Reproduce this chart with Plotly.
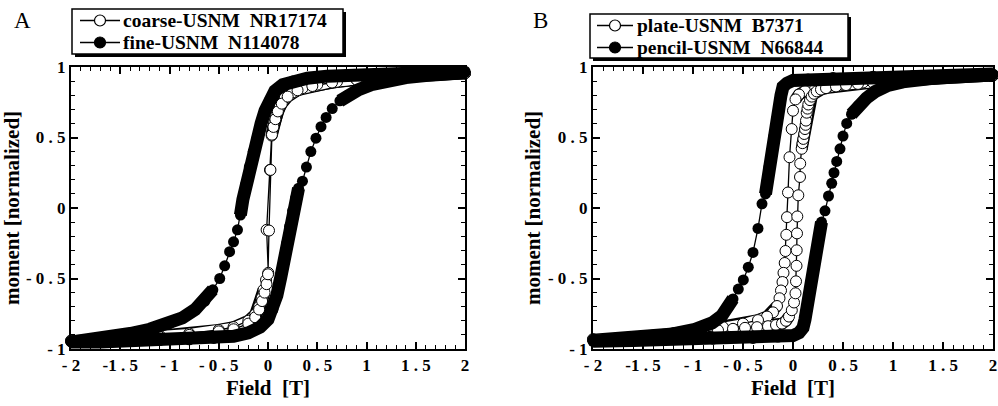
import plotly.graph_objects as go

# ---------------- data ----------------
# Panel A -- coarse-USNM NR17174 (open circles): full loop, descending then ascending
coarse_a_x = [2.0, 1.6, 1.2, 0.9, 0.7, 0.5, 0.35, 0.25, 0.17, 0.12, 0.085, 0.065, 0.05, 0.037,
              0.02, -0.014, 0.003, -0.02,
              -0.045, -0.065, -0.09, -0.13, -0.2, -0.35, -0.5, -0.8, -1.1, -1.5, -2.0,
              -2.0, -1.5, -1.1, -0.8, -0.5, -0.35, -0.2, -0.13, -0.09, -0.06, -0.035,
              -0.015, 0.0, 0.01, 0.025,
              0.04, 0.055, 0.075, 0.1, 0.14, 0.2, 0.3, 0.45, 0.65, 0.9, 1.3, 2.0]
coarse_a_y = [0.955, 0.945, 0.93, 0.91, 0.895, 0.875, 0.85, 0.82, 0.78, 0.72, 0.66, 0.61, 0.565, 0.514,
              0.27, -0.155, -0.46, -0.51,
              -0.58, -0.64, -0.70, -0.755, -0.80, -0.845, -0.865, -0.89, -0.905, -0.925, -0.94,
              -0.945, -0.93, -0.915, -0.90, -0.875, -0.86, -0.82, -0.775, -0.72, -0.66, -0.60,
              -0.54, -0.47, -0.16, 0.27,
              0.52, 0.575, 0.63, 0.685, 0.74, 0.79, 0.835, 0.865, 0.89, 0.91, 0.935, 0.955]
# sampling density of each point: D = densely measured (markers overlap), s = sparse
coarse_a_sampling = "D" * 14 + "s" * 4 + "D" * 11 + "D" * 11 + "s" * 4 + "D" * 12

# Panel A -- fine-USNM N114078 (filled circles)
fine_a_x = [2.0, 1.7, 1.4, 1.1, 0.8, 0.6, 0.4, 0.25, 0.15, 0.07, 0.02, -0.03, -0.07, -0.11,
            -0.15, -0.19, -0.225, -0.255, -0.28,
            -0.31, -0.35, -0.39, -0.44, -0.49,
            -0.56, -0.64, -0.74, -0.87, -1.0, -1.2, -1.4, -1.6, -1.8, -2.0,
            -2.0, -1.7, -1.4, -1.1, -0.8, -0.55, -0.35, -0.2, -0.08, 0.0, 0.05, 0.09, 0.13,
            0.16, 0.19, 0.22, 0.25, 0.28, 0.31,
            0.35, 0.39, 0.435, 0.487, 0.538, 0.59, 0.652,
            0.73, 0.81, 0.92, 1.05, 1.2, 1.4, 1.6, 1.8, 2.0]
fine_a_y = [0.97, 0.965, 0.96, 0.955, 0.945, 0.935, 0.92, 0.90, 0.875, 0.83, 0.77, 0.69, 0.60, 0.50,
            0.40, 0.29, 0.17, 0.06, -0.05,
            -0.155, -0.24, -0.31, -0.41, -0.50,
            -0.58, -0.66, -0.72, -0.78, -0.82, -0.86, -0.89, -0.91, -0.93, -0.945,
            -0.95, -0.95, -0.945, -0.94, -0.935, -0.925, -0.91, -0.885, -0.845, -0.79, -0.72, -0.62, -0.49,
            -0.37, -0.25, -0.13, -0.02, 0.07, 0.14,
            0.19, 0.29, 0.40, 0.495, 0.577, 0.642, 0.705,
            0.76, 0.80, 0.84, 0.875, 0.90, 0.925, 0.94, 0.95, 0.96]
fine_a_sampling = "D" * 19 + "s" * 5 + "D" * 10 + "D" * 19 + "s" * 7 + "D" * 9

# Panel B -- plate-USNM B7371 (open circles)
plate_b_x = [2.0, 1.6, 1.2, 0.9, 0.7, 0.5, 0.35, 0.22, 0.12, 0.06, 0.025,
             0.0, -0.013, -0.035, -0.05, -0.06, -0.067, -0.075, -0.083, -0.095, -0.105, -0.12, -0.135,
             -0.16, -0.2, -0.26, -0.35, -0.5, -0.7, -0.9, -1.2, -1.6, -2.0,
             -2.0, -1.6, -1.2, -0.9, -0.75, -0.6, -0.48, -0.36, -0.25, -0.17, -0.11, -0.07, -0.04,
             -0.012, 0.01, 0.025, 0.03, 0.035, 0.037, 0.04, 0.043, 0.053, 0.07, 0.072,
             0.087, 0.095, 0.103, 0.112, 0.12, 0.126, 0.13, 0.137, 0.145, 0.153, 0.17, 0.187, 0.21,
             0.237, 0.28, 0.33, 0.43, 0.53, 0.65, 0.8, 1.0, 1.3, 1.6, 2.0]
plate_b_y = [0.94, 0.93, 0.915, 0.90, 0.89, 0.875, 0.86, 0.845, 0.83, 0.805, 0.77,
             0.69, 0.56, 0.36, 0.11, -0.065, -0.19, -0.305, -0.39, -0.46, -0.525, -0.585, -0.64,
             -0.695, -0.74, -0.77, -0.795, -0.82, -0.845, -0.865, -0.89, -0.915, -0.93,
             -0.935, -0.925, -0.905, -0.88, -0.867, -0.857, -0.85, -0.845, -0.838, -0.83, -0.82, -0.80, -0.77,
             -0.725, -0.67, -0.605, -0.52, -0.41, -0.30, -0.18, -0.06, 0.09, 0.22, 0.315,
             0.42, 0.46, 0.49, 0.525, 0.56, 0.59, 0.62, 0.676, 0.705, 0.734, 0.765, 0.79, 0.81,
             0.827, 0.84, 0.85, 0.862, 0.872, 0.88, 0.89, 0.90, 0.915, 0.93, 0.94]
plate_b_sampling = "D" * 11 + "s" * 12 + "D" * 10 + "D" * 13 + "s" * 11 + "D" * 24

# Panel B -- pencil-USNM N66844 (filled circles)
pencil_b_x = [2.0, 1.6, 1.2, 0.8, 0.4, 0.15, 0.0, -0.06, -0.1, -0.12, -0.14, -0.165, -0.19, -0.215,
              -0.24, -0.26, -0.275,
              -0.31, -0.35, -0.40, -0.447, -0.497, -0.547,
              -0.6, -0.65, -0.713, -0.81, -0.98, -1.25, -1.6, -2.0,
              -2.0, -1.6, -1.2, -0.8, -0.4, -0.15, 0.0, 0.06, 0.1, 0.12, 0.14, 0.165, 0.19, 0.215,
              0.24, 0.265, 0.285,
              0.32, 0.355, 0.387, 0.41, 0.437, 0.47, 0.50, 0.537,
              0.585, 0.65, 0.735, 0.82, 0.95, 1.1, 1.3, 1.6, 2.0]
pencil_b_y = [0.95, 0.945, 0.94, 0.935, 0.925, 0.915, 0.905, 0.885, 0.86, 0.80, 0.72, 0.62, 0.51, 0.40,
              0.29, 0.19, 0.10,
              0.03, -0.145, -0.315, -0.42, -0.51, -0.575,
              -0.645, -0.705, -0.765, -0.815, -0.86, -0.90, -0.926, -0.935,
              -0.945, -0.94, -0.935, -0.93, -0.925, -0.915, -0.905, -0.885, -0.85, -0.79, -0.71, -0.61, -0.50, -0.39,
              -0.28, -0.18, -0.10,
              -0.02, 0.085, 0.175, 0.25, 0.33, 0.42, 0.51, 0.60,
              0.665, 0.725, 0.78, 0.825, 0.87, 0.895, 0.915, 0.935, 0.945]
pencil_b_sampling = "D" * 17 + "s" * 6 + "D" * 8 + "D" * 17 + "s" * 8 + "D" * 9

series_names = ["coarse-USNM\u00a0\u00a0NR17174", "fine-USNM\u00a0\u00a0N114078",
                "plate-USNM\u00a0\u00a0B7371", "pencil-USNM\u00a0\u00a0N66844"]
panel_labels = ["A", "B"]

x_tickvals = [-2, -1.5, -1, -0.5, 0, 0.5, 1, 1.5, 2]
x_ticktext = ["- 2", "-1 . 5", "- 1", "- 0 . 5", "0", "0 . 5", "1", "1 . 5", "2"]
y_tickvals = [-1, -0.5, 0, 0.5, 1]
y_ticktext = ["- 1", "- 0 . 5", "0", "0 . 5", "1"]
x_title = "Field\u00a0\u00a0[T]"
y_title = "moment [normalized]"

# ---------------- figure ----------------
W, H = 998, 406
FONT = "Liberation Serif, Times New Roman, serif"
MS = 11          # marker diameter
BAND = 13        # width of densely sampled filled stretches
BAND_OPEN = 12   # width of densely sampled open-circle stretches


def px(x):
    return x / W


def py(y):
    return 1 - y / H


def dense_runs(mask, n):
    mask = (mask + "s" * n)[:n]
    runs, start = [], None
    for i, c in enumerate(mask):
        if c == "D":
            if start is None:
                start = i
        else:
            if start is not None:
                runs.append((start, i))
                start = None
    if start is not None:
        runs.append((start, n))
    return [r for r in runs if r[1] - r[0] >= 2]


fig = go.Figure()


def add_series(x, y, mask, filled, xa, ya, name):
    runs = dense_runs(mask, len(x))
    width = BAND if filled else BAND_OPEN
    # dense stretches: overlapping markers drawn as a continuous band
    for s, e in runs:
        fig.add_trace(go.Scatter(x=x[s:e], y=y[s:e], mode="lines", xaxis=xa, yaxis=ya,
                                 line=dict(color="black", width=width), cliponaxis=False,
                                 hoverinfo="skip", showlegend=False))
    if not filled:
        for s, e in runs:
            fig.add_trace(go.Scatter(x=x[s:e], y=y[s:e], mode="lines", xaxis=xa, yaxis=ya,
                                     line=dict(color="white", width=width - 3), cliponaxis=False,
                                     hoverinfo="skip", showlegend=False))
    fig.add_trace(go.Scatter(
        x=x, y=y, mode="lines+markers", name=name, xaxis=xa, yaxis=ya,
        line=dict(color="black", width=1.3), cliponaxis=False, showlegend=False,
        marker=dict(symbol="circle", size=MS, color="black" if filled else "white",
                    line=dict(color="black", width=1 if not filled else 0))))


add_series(coarse_a_x, coarse_a_y, coarse_a_sampling, False, "x", "y", series_names[0])
add_series(fine_a_x, fine_a_y, fine_a_sampling, True, "x", "y", series_names[1])
add_series(plate_b_x, plate_b_y, plate_b_sampling, False, "x2", "y2", series_names[2])
add_series(pencil_b_x, pencil_b_y, pencil_b_sampling, True, "x2", "y2", series_names[3])

tickfont = dict(family=FONT, size=17, color="black", weight="bold")
titlefont = dict(family=FONT, size=21, color="black", weight="bold")
common = dict(showline=True, linecolor="black", linewidth=2, mirror="allticks",
              ticks="inside", ticklen=7, tickwidth=1.5, tickcolor="black",
              showgrid=False, zeroline=False, tickfont=tickfont, automargin=False,
              minor=dict(dtick=0.1, tick0=0, ticks="inside", ticklen=4, tickwidth=1,
                         tickcolor="black", showgrid=False))
xcommon = dict(common, range=[-2, 2], tickmode="array", tickvals=x_tickvals, ticktext=x_ticktext,
               title=dict(text=x_title, font=titlefont, standoff=6))
ycommon = dict(common, range=[-1, 1], tickmode="array", tickvals=y_tickvals, ticktext=y_ticktext,
               title=dict(text=y_title, font=titlefont, standoff=2))

ydom = [py(349), py(67)]
fig.update_layout(
    width=W, height=H, margin=dict(l=0, r=0, t=0, b=0),
    paper_bgcolor="white", plot_bgcolor="white", showlegend=False,
    xaxis=dict(xcommon, domain=[px(71), px(465)], anchor="y"),
    yaxis=dict(ycommon, domain=ydom, anchor="x"),
    xaxis2=dict(xcommon, domain=[px(593), px(993)], anchor="y2"),
    yaxis2=dict(ycommon, domain=ydom, anchor="x2"),
)

# ---------------- legends (boxes with drop shadow) ----------------
shapes, annotations = [], []
legend_specs = [
    dict(box=(72, 9, 343, 54), lx=(80, 120), cx=100, tx=122, rows=(20.5, 42.5),
         names=series_names[0:2]),
    dict(box=(590, 14, 848, 58), lx=(597, 633), cx=615, tx=636, rows=(25.5, 47.5),
         names=series_names[2:4]),
]
for spec in legend_specs:
    x0, y0, x1, y1 = spec["box"]
    shapes.append(dict(type="rect", xref="paper", yref="paper", x0=px(x0 + 3), x1=px(x1 + 3),
                       y0=py(y1 + 3), y1=py(y0 + 3), fillcolor="black", line=dict(width=0),
                       layer="above"))
    shapes.append(dict(type="rect", xref="paper", yref="paper", x0=px(x0), x1=px(x1),
                       y0=py(y1), y1=py(y0), fillcolor="white",
                       line=dict(color="black", width=1.5), layer="above"))
    for k, (ry, nm) in enumerate(zip(spec["rows"], spec["names"])):
        filled = (k == 1)
        shapes.append(dict(type="line", xref="paper", yref="paper", x0=px(spec["lx"][0]),
                           x1=px(spec["lx"][1]), y0=py(ry), y1=py(ry),
                           line=dict(color="black", width=1.3), layer="above"))
        shapes.append(dict(type="circle", xref="paper", yref="paper", xsizemode="pixel",
                           ysizemode="pixel", xanchor=px(spec["cx"]), yanchor=py(ry),
                           x0=-MS / 2, x1=MS / 2, y0=-MS / 2, y1=MS / 2,
                           fillcolor="black" if filled else "white",
                           line=dict(color="black", width=1.2), layer="above"))
        annotations.append(dict(text=nm, xref="paper", yref="paper", x=px(spec["tx"]), y=py(ry),
                                xanchor="left", yanchor="middle", showarrow=False, borderpad=0,
                                font=dict(family=FONT, size=19.5, color="black", weight="bold")))

for lab, (lxp, lyp) in zip(panel_labels, [(22, 21), (540, 21)]):
    annotations.append(dict(text=lab, xref="paper", yref="paper", x=px(lxp), y=py(lyp),
                            xanchor="center", yanchor="middle", showarrow=False,
                            font=dict(family=FONT, size=23, color="black")))

fig.update_layout(shapes=shapes, annotations=annotations)
fig.write_html("out.html")
